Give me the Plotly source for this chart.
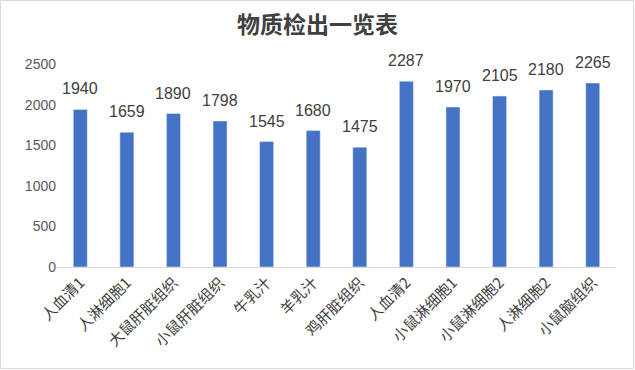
import plotly.graph_objects as go

categories = ["人血清1", "人淋细胞1", "大鼠肝脏组织", "小鼠肝脏组织", "牛乳汁", "羊乳汁",
              "鸡肝脏组织", "人血清2", "小鼠淋细胞1", "小鼠淋细胞2", "人淋细胞2", "小鼠脑组织"]
values = [1940, 1659, 1890, 1798, 1545, 1680, 1475, 2287, 1970, 2105, 2180, 2265]
title = "物质检出一览表"

W, H = 635, 370
L, R, T, B = 57, 19, 64, 103

fig = go.Figure(go.Bar(
    x=categories, y=values, width=0.3, marker_color="#4472C4",
))

for c, v in zip(categories, values):
    fig.add_annotation(x=c, y=v, text=str(v), showarrow=False, yanchor="bottom", yshift=10,
                       font=dict(size=16, color="#404040", family="Liberation Sans, Arial"))

pw, ph = W - L - R, H - T - B
fig.add_shape(type="rect", xref="paper", yref="paper",
              x0=-(L - 0.5) / pw, x1=1 + (R - 1.5) / pw, y0=-(B - 1.5) / ph, y1=1 + (T - 0.5) / ph,
              line=dict(color="#D9D9D9", width=1), fillcolor="rgba(0,0,0,0)")

fig.update_layout(
    width=W, height=H, margin=dict(l=L, r=R, t=T, b=B, autoexpand=False),
    paper_bgcolor="white", plot_bgcolor="white",
    title=dict(text="<b>" + title + "</b>", x=0.5, xref="container", y=1 - 25 / H, yanchor="middle",
               font=dict(size=23, color="#404040", family="Noto Sans CJK SC")),
    showlegend=False,
    xaxis=dict(tickangle=-45, automargin=False,
               tickfont=dict(size=15, color="#404040", family="Noto Sans CJK SC"),
               showline=True, linecolor="#D9D9D9", ticks="", showgrid=False),
    yaxis=dict(range=[0, 2500], dtick=500, showgrid=False, zeroline=False, showline=False,
               automargin=False,
               tickfont=dict(size=14, color="#595959", family="Liberation Sans, Arial"), ticks=""),
)
fig.write_html("out.html", config={"displayModeBar": False},
               post_script="document.body.style.margin='0';")
